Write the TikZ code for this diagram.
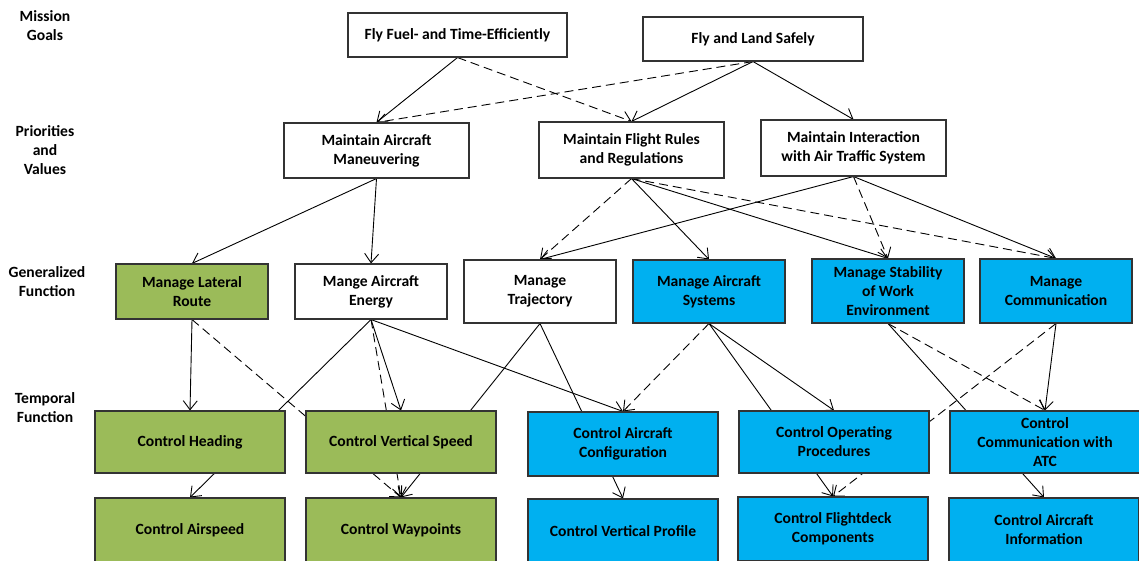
\documentclass[tikz,border=0pt]{standalone}
\usepackage{fontspec}
\setmainfont{Carlito}
\usetikzlibrary{arrows.meta}
\pgfdeclarelayer{edges}
\pgfsetlayers{edges,main}
\definecolor{grn}{HTML}{9BBB59}
\definecolor{blu}{HTML}{00B0F0}
\begin{document}
\begin{tikzpicture}[x=1pt,y=-1pt,
  box/.style={draw=black!80, line width=1.1pt, align=center, inner sep=0pt,
    font=\bfseries\fontsize{15.6}{19}\selectfont},
  sz/.style 2 args={minimum width=#1pt, minimum height=#2pt},
  wbox/.style={box, fill=white},
  gbox/.style={box, fill=grn},
  bbox/.style={box, fill=blu},
  lbl/.style={align=center, inner sep=0pt, font=\bfseries\fontsize{15.6}{19}\selectfont},
  conn/.style={line width=0.9pt, -{Straight Barb[length=9pt,width=14pt]}},
  dconn/.style={conn, dash pattern=on 9pt off 5pt}]
\useasboundingbox (0,0) rectangle (1139,561);

% level labels
\node[lbl] (lmg) at (45,26) {Mission\\Goals};
\node[lbl] (lpv) at (45,150) {Priorities\\and\\Values};
\node[lbl] (lgf) at (47,282) {Generalized\\Function};
\node[lbl] (ltf) at (45,408) {Temporal\\Function};

% mission goals
\node[wbox, sz={219}{44}] (fuel) at (457.5,35) {Fly Fuel- and Time-Efficiently};
\node[wbox, sz={220}{44}] (safe) at (753,39) {Fly and Land Safely};

% priorities and values
\node[wbox, sz={185}{55}] (maneuv) at (376.5,150.5) {Maintain Aircraft\\Maneuvering};
\node[wbox, sz={185}{56}] (rules) at (631.5,150) {Maintain Flight Rules\\and Regulations};
\node[wbox, sz={185}{56}] (inter) at (853.5,148) {Maintain Interaction\\with Air Traffic System};

% generalized function
\node[gbox, sz={152}{55}] (lateral) at (192,291.5) {Manage Lateral\\Route};
\node[wbox, sz={152}{55}] (energy) at (371,291.5) {Mange Aircraft\\Energy};
\node[wbox, sz={152}{63}] (traj) at (540,291.5) {Manage\\Trajectory};
\node[bbox, sz={152}{63}] (systems) at (709,291.5) {Manage Aircraft\\Systems};
\node[bbox, sz={152}{64}] (stab) at (888,291) {Manage Stability\\of Work\\Environment};
\node[bbox, sz={152}{64}] (comm) at (1056,291) {Manage\\Communication};

% temporal function
\node[gbox, sz={190}{62}] (heading) at (190,442) {Control Heading};
\node[gbox, sz={190}{62}] (vspeed) at (401,442) {Control Vertical Speed};
\node[bbox, sz={190}{64}] (config) at (623,444) {Control Aircraft\\Configuration};
\node[bbox, sz={190}{62}] (opproc) at (834,442) {Control Operating\\Procedures};
\node[bbox, sz={190}{62}] (commatc) at (1045,442) {Control\\Communication with\\ATC};

\node[gbox, sz={190}{64}] (airspeed) at (190,530) {Control Airspeed};
\node[gbox, sz={190}{64}] (waypoints) at (401,530) {Control Waypoints};
\node[bbox, sz={190}{64}] (vprofile) at (623,531) {Control Vertical Profile};
\node[bbox, sz={190}{64}] (flightdeck) at (833,529) {Control Flightdeck\\Components};
\node[bbox, sz={190}{64}] (acinfo) at (1044,530) {Control Aircraft\\Information};

\begin{pgfonlayer}{edges}
% solid
\draw[conn] (fuel.south) -- (maneuv.north);
\draw[conn] (safe.south) -- (rules.north);
\draw[conn] (safe.south) -- (inter.north);
\draw[conn] (maneuv.south) -- (lateral.north);
\draw[conn] (maneuv.south) -- (energy.north);
\draw[conn] (rules.south) -- (systems.north);
\draw[conn] (rules.south) -- (stab.north);
\draw[conn] (inter.south) -- (traj.north);
\draw[conn] (inter.south) -- (comm.north);
\draw[conn] (lateral.south) -- (heading.north);
\draw[conn] (energy.south) -- (airspeed.north);
\draw[conn] (energy.south) -- (vspeed.north);
\draw[conn] (energy.south) -- (config.north);
\draw[conn] (traj.south) -- (waypoints.north);
\draw[conn] (traj.south) -- (vprofile.north);
\draw[conn] (systems.south) -- (flightdeck.north);
\draw[conn] (systems.south) -- (opproc.north);
\draw[conn] (stab.south) -- (acinfo.north);
\draw[conn] (comm.south) -- (commatc.north);
% dashed
\draw[dconn] (fuel.south) -- (rules.north);
\draw[dconn] (safe.south) -- (maneuv.north);
\draw[dconn] (rules.south) -- (traj.north);
\draw[dconn] (rules.south) -- (comm.north);
\draw[dconn] (inter.south) -- (stab.north);
\draw[dconn] (lateral.south) -- (waypoints.north);
\draw[dconn] (energy.south) -- (waypoints.north);
\draw[dconn] (systems.south) -- (config.north);
\draw[dconn] (stab.south) -- (commatc.north);
\draw[dconn] (comm.south) -- (flightdeck.north);
\end{pgfonlayer}
\end{tikzpicture}
\end{document}
